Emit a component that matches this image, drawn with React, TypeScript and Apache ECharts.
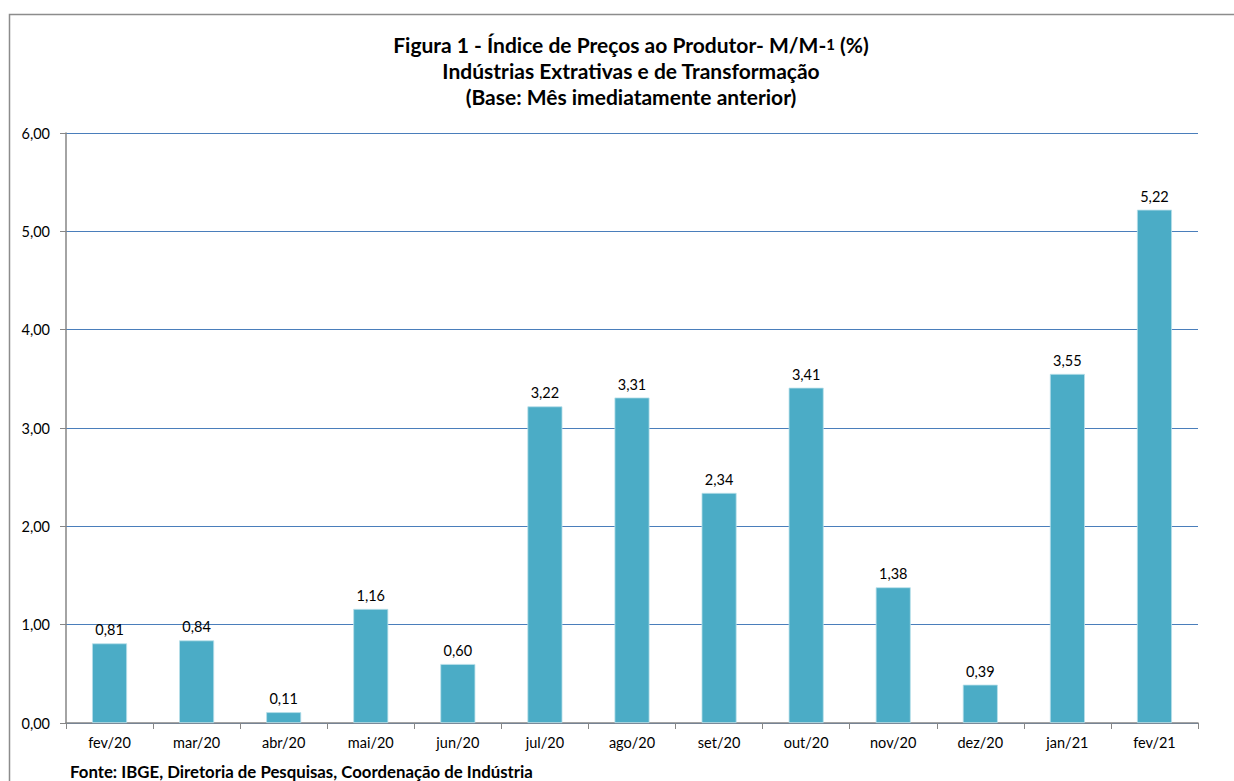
import React, { useEffect, useRef } from "react";
import * as echarts from "echarts";

const categories = ["fev/20", "mar/20", "abr/20", "mai/20", "jun/20", "jul/20", "ago/20", "set/20", "out/20", "nov/20", "dez/20", "jan/21", "fev/21"];
const values = [0.81, 0.84, 0.11, 1.16, 0.6, 3.22, 3.31, 2.34, 3.41, 1.38, 0.39, 3.55, 5.22];
const titleLines = [
  "Figura 1 - Índice de Preços ao Produtor- M/M-{s|1} (%)",
  "Indústrias Extrativas e de Transformação",
  "(Base: Mês imediatamente anterior)",
];
const sourceText = "Fonte: IBGE, Diretoria de Pesquisas, Coordenação de Indústria";

const fmt = (v: number) => v.toFixed(2).replace(".", ",");
const FONT = "Lato, 'Open Sans', sans-serif";

export default function App() {
  const ref = useRef<HTMLDivElement>(null);
  useEffect(() => {
    if (!ref.current) return;
    const chart = echarts.init(ref.current, null, { renderer: "svg" });
    chart.setOption({
      animation: false,
      backgroundColor: "#ffffff",
      textStyle: { fontFamily: FONT },
      title: {
        text: titleLines.join("\n"),
        left: 626,
        textAlign: "center",
        top: 26,
        textStyle: {
          fontSize: 21,
          fontWeight: "bold",
          color: "#000",
          lineHeight: 26,
          fontFamily: FONT,
          rich: { s: { fontSize: 15, fontWeight: "bold", color: "#000", fontFamily: FONT, lineHeight: 26 } },
        },
      },
      graphic: [
        {
          type: "rect",
          shape: { x: 9.5, y: 14.5, width: 1300, height: 900 },
          style: { fill: "none", stroke: "#8c8c8c", lineWidth: 1.5 },
          z: -1,
        },
        {
          type: "text",
          left: 70,
          top: 763,
          style: { text: sourceText, fontSize: 16.8, fontWeight: "bold", fill: "#000", fontFamily: FONT },
        },
      ],
      grid: { left: 66, right: 36, top: 133, bottom: 58, containLabel: false },
      xAxis: {
        type: "category",
        data: categories,
        axisLine: { lineStyle: { color: "#868686", width: 1.5 } },
        axisTick: { show: true, length: 6, lineStyle: { color: "#868686" } },
        axisLabel: { color: "#000", fontSize: 14.5, margin: 12, fontFamily: FONT },
      },
      yAxis: {
        type: "value",
        min: 0,
        max: 6,
        interval: 1,
        axisLine: { show: true, lineStyle: { color: "#868686", width: 1.5 } },
        axisTick: { show: true, length: 6, lineStyle: { color: "#868686" } },
        axisLabel: { color: "#000", fontSize: 14.5, margin: 16, formatter: (v: number) => fmt(v), fontFamily: FONT },
        splitLine: { lineStyle: { color: "#4a7ebb", width: 1 } },
      },
      series: [
        {
          type: "bar",
          data: values,
          barWidth: 35,
          itemStyle: { color: "#4bacc6", borderColor: "#b9e0ea", borderWidth: 0.8 },
          label: {
            show: true,
            position: "top",
            distance: 6,
            color: "#000",
            fontSize: 14.5,
            fontFamily: FONT,
            formatter: (p: any) => fmt(p.value),
          },
        },
      ],
    });
    return () => chart.dispose();
  }, []);
  return <div ref={ref} style={{ position: "absolute", left: 0, top: 0, width: 1234, height: 781 }} />;
}
